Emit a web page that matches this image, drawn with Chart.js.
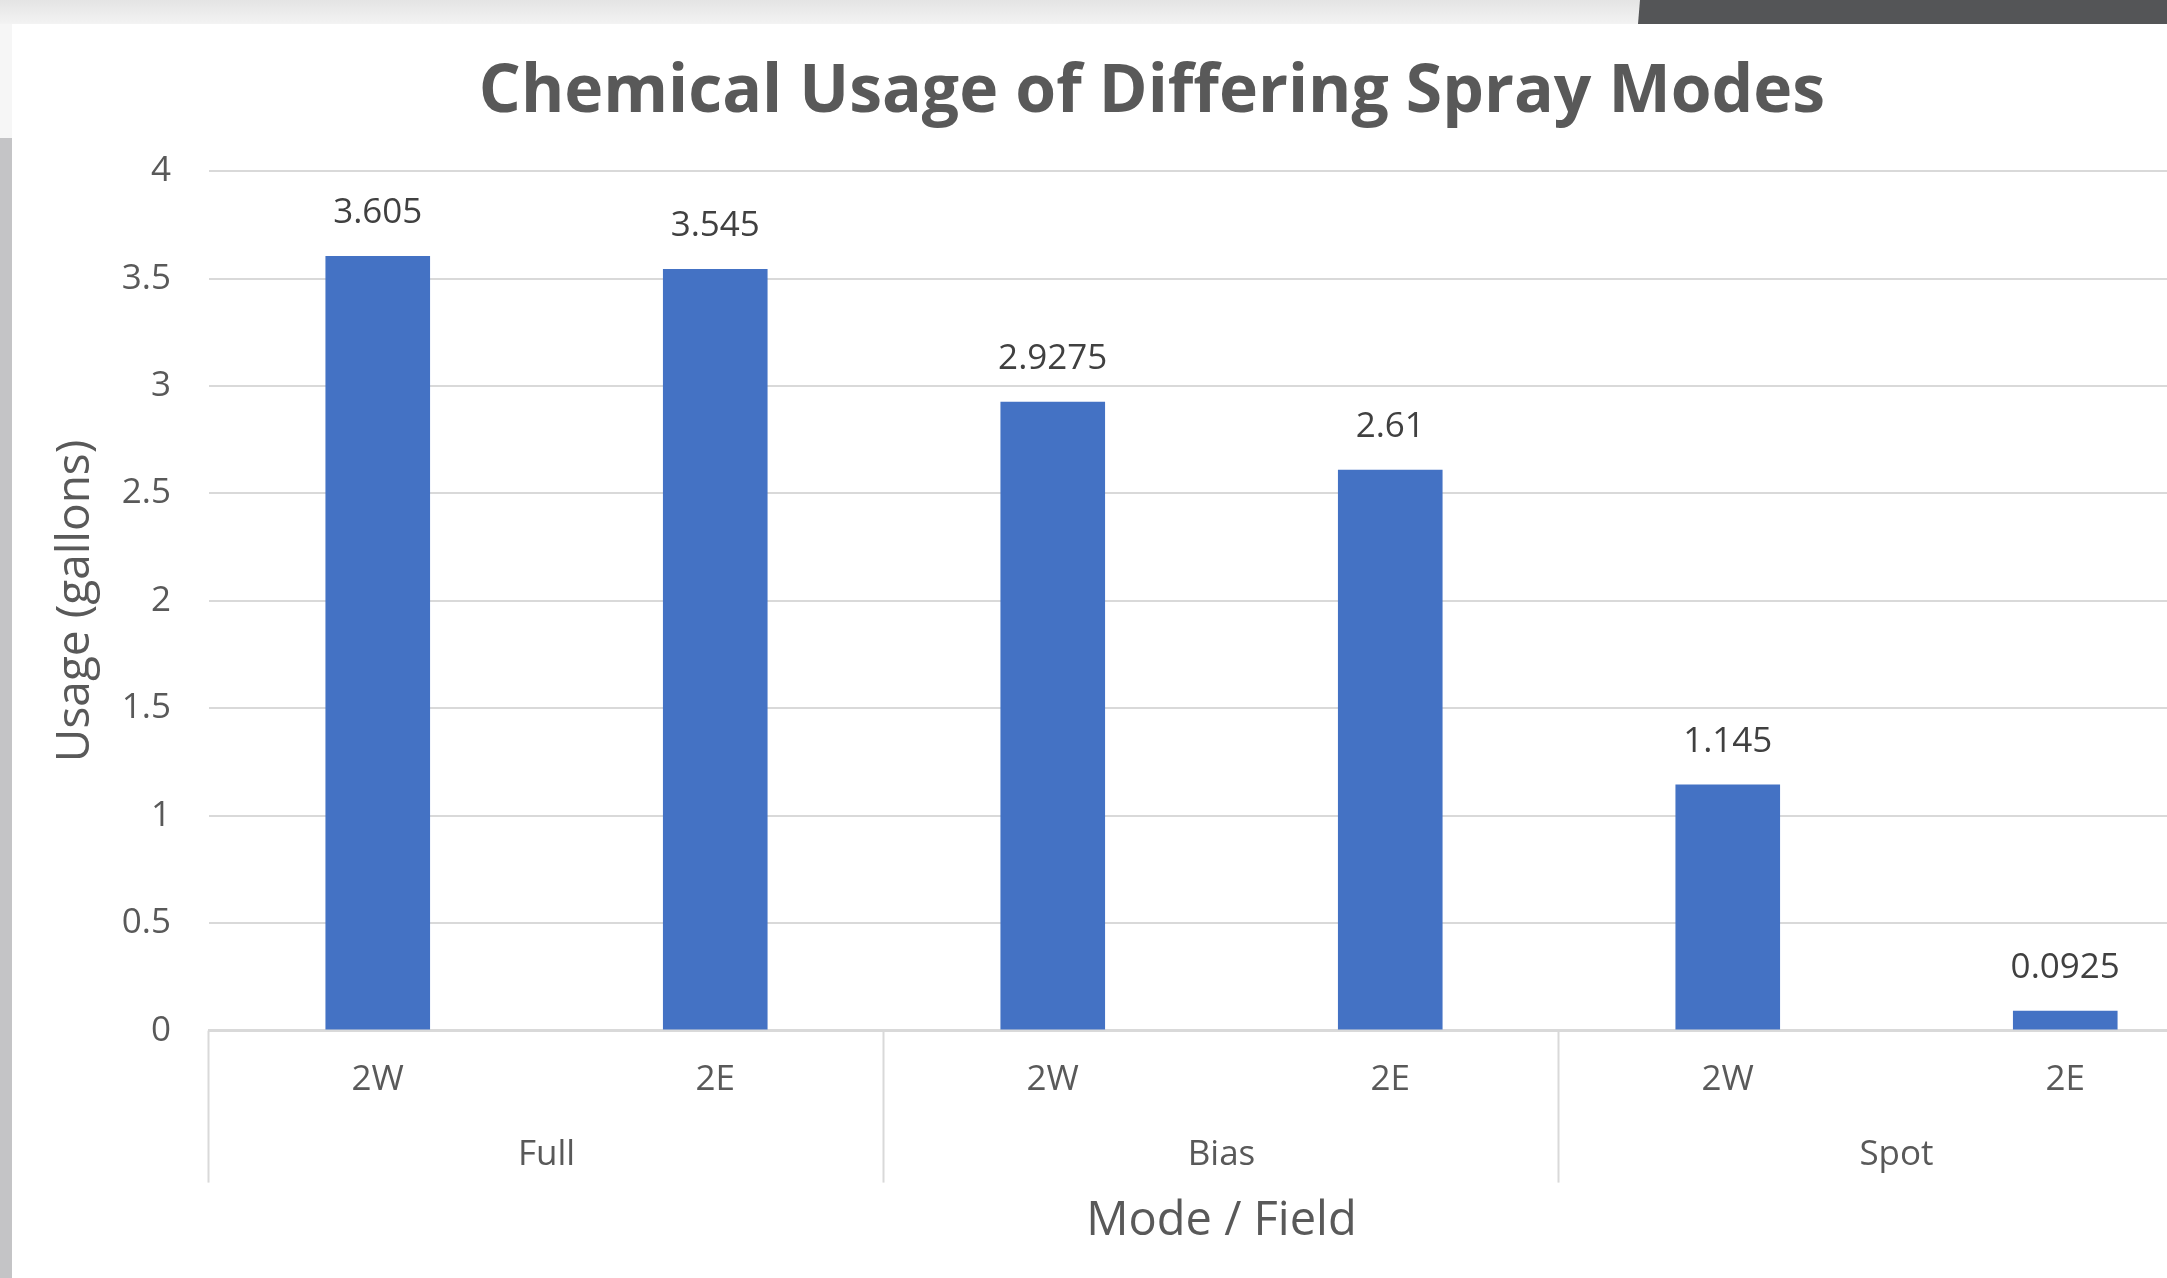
<!DOCTYPE html>
<html lang="en">
<head>
    <meta charset="UTF-8">
    <title>Chemical Usage of Differing Spray Modes</title>
    <script src="https://cdn.jsdelivr.net/npm/chart.js"></script>
    <style>
        body { margin: 0; width: 2167px; height: 1278px; overflow: hidden; background: #ffffff; position: relative; }
        #topStrip { position: absolute; left: 0; top: 0; width: 2167px; height: 24px; background: linear-gradient(#e4e4e4, #f3f3f3); }
        #darkTab { position: absolute; left: 1638px; top: 0; width: 540px; height: 24px; background: #545557; clip-path: polygon(2px 0, 100% 0, 100% 100%, 0 100%); }
        #leftStrip { position: absolute; left: 0; top: 24px; width: 12px; height: 1254px; background: linear-gradient(#f6f6f6 0, #f6f6f6 114px, #c4c4c6 114px); }
        #card { position: absolute; left: 12px; top: 24px; }
    </style>
</head>
<body>
<div id="topStrip"></div>
<div id="darkTab"></div>
<div id="leftStrip"></div>
<canvas id="card" width="2232" height="1254"></canvas>

<script>
    // chart data
    const groups = ['Full', 'Bias', 'Spot'];
    const fields = ['2W', '2E', '2W', '2E', '2W', '2E'];
    const usage = [3.605, 3.545, 2.9275, 2.61, 1.145, 0.0925];
    const yTickLabels = ['0', '0.5', '1', '1.5', '2', '2.5', '3', '3.5', '4'];
    const yMax = 4;
    const yStep = 0.5;

    const textColor = '#595959';
    const gridColor = '#d9d9d9';
    const font = 'Open Sans';

    // value labels above each bar
    const valueLabels = {
        id: 'valueLabels',
        afterDatasetsDraw(chart) {
            const ctx = chart.ctx;
            const meta = chart.getDatasetMeta(0);
            ctx.save();
            ctx.fillStyle = '#404040';
            ctx.font = '35px "' + font + '"';
            ctx.textAlign = 'center';
            ctx.textBaseline = 'middle';
            meta.data.forEach((bar, i) => {
                ctx.fillText(String(usage[i]), bar.x, bar.y - 43);
            });
            ctx.restore();
        }
    };

    // vertical lines between the mode groups under the axis
    const groupLines = {
        id: 'groupLines',
        afterDraw(chart) {
            const x = chart.scales.x;
            const x2 = chart.scales.x2;
            const ctx = chart.ctx;
            const w = x.getPixelForValue(1) - x.getPixelForValue(0);
            ctx.save();
            ctx.strokeStyle = gridColor;
            ctx.lineWidth = 2;
            for (let g = 0; g <= groups.length; g++) {
                const px = Math.round(x.getPixelForValue(g * 2) - w / 2) - 0.5;
                ctx.beginPath();
                ctx.moveTo(px, x.top);
                ctx.lineTo(px, x2.top + 54);
                ctx.stroke();
            }
            ctx.restore();
        }
    };

    const ctx = document.getElementById('card').getContext('2d');

    new Chart(ctx, {
        type: 'bar',
        data: {
            labels: fields,
            datasets: [{
                label: 'Usage',
                data: usage,
                backgroundColor: '#4472c4',
                barPercentage: 0.31,
                categoryPercentage: 1
            }]
        },
        options: {
            responsive: false,
            animation: false,
            layout: { padding: { left: 58, right: 10, top: 30, bottom: 28 } },
            plugins: {
                legend: { display: false },
                tooltip: { enabled: false },
                title: {
                    display: true,
                    text: 'Chemical Usage of Differing Spray Modes',
                    color: textColor,
                    font: { family: font, size: 66, weight: 'bold' },
                    padding: { top: 0, bottom: 38 }
                }
            },
            scales: {
                y: {
                    min: 0,
                    max: yMax,
                    ticks: {
                        stepSize: yStep,
                        color: textColor,
                        font: { family: font, size: 35 },
                        padding: 38,
                        callback: (v, i) => yTickLabels[i]
                    },
                    grid: { color: gridColor, lineWidth: 2, drawTicks: false },
                    border: { display: false },
                    title: {
                        display: true,
                        text: 'Usage (gallons)',
                        color: textColor,
                        font: { family: font, size: 46 },
                        padding: { top: -22, bottom: 0 }
                    },
                    afterFit(scale) { scale.width = 139; }
                },
                x: {
                    ticks: {
                        color: textColor,
                        font: { family: font, size: 35 },
                        padding: 28
                    },
                    grid: { display: false, drawTicks: false },
                    border: { display: true, color: gridColor, width: 3 }
                },
                x2: {
                    type: 'category',
                    position: 'bottom',
                    labels: groups,
                    offset: true,
                    ticks: {
                        color: textColor,
                        font: { family: font, size: 35 },
                        padding: 5
                    },
                    grid: { display: false, drawTicks: false },
                    border: { display: false },
                    title: {
                        display: true,
                        text: 'Mode / Field',
                        color: textColor,
                        font: { family: font, size: 47 },
                        padding: { top: 13, bottom: 0 }
                    }
                }
            }
        },
        plugins: [valueLabels, groupLines]
    });
</script>

</body>
</html>
